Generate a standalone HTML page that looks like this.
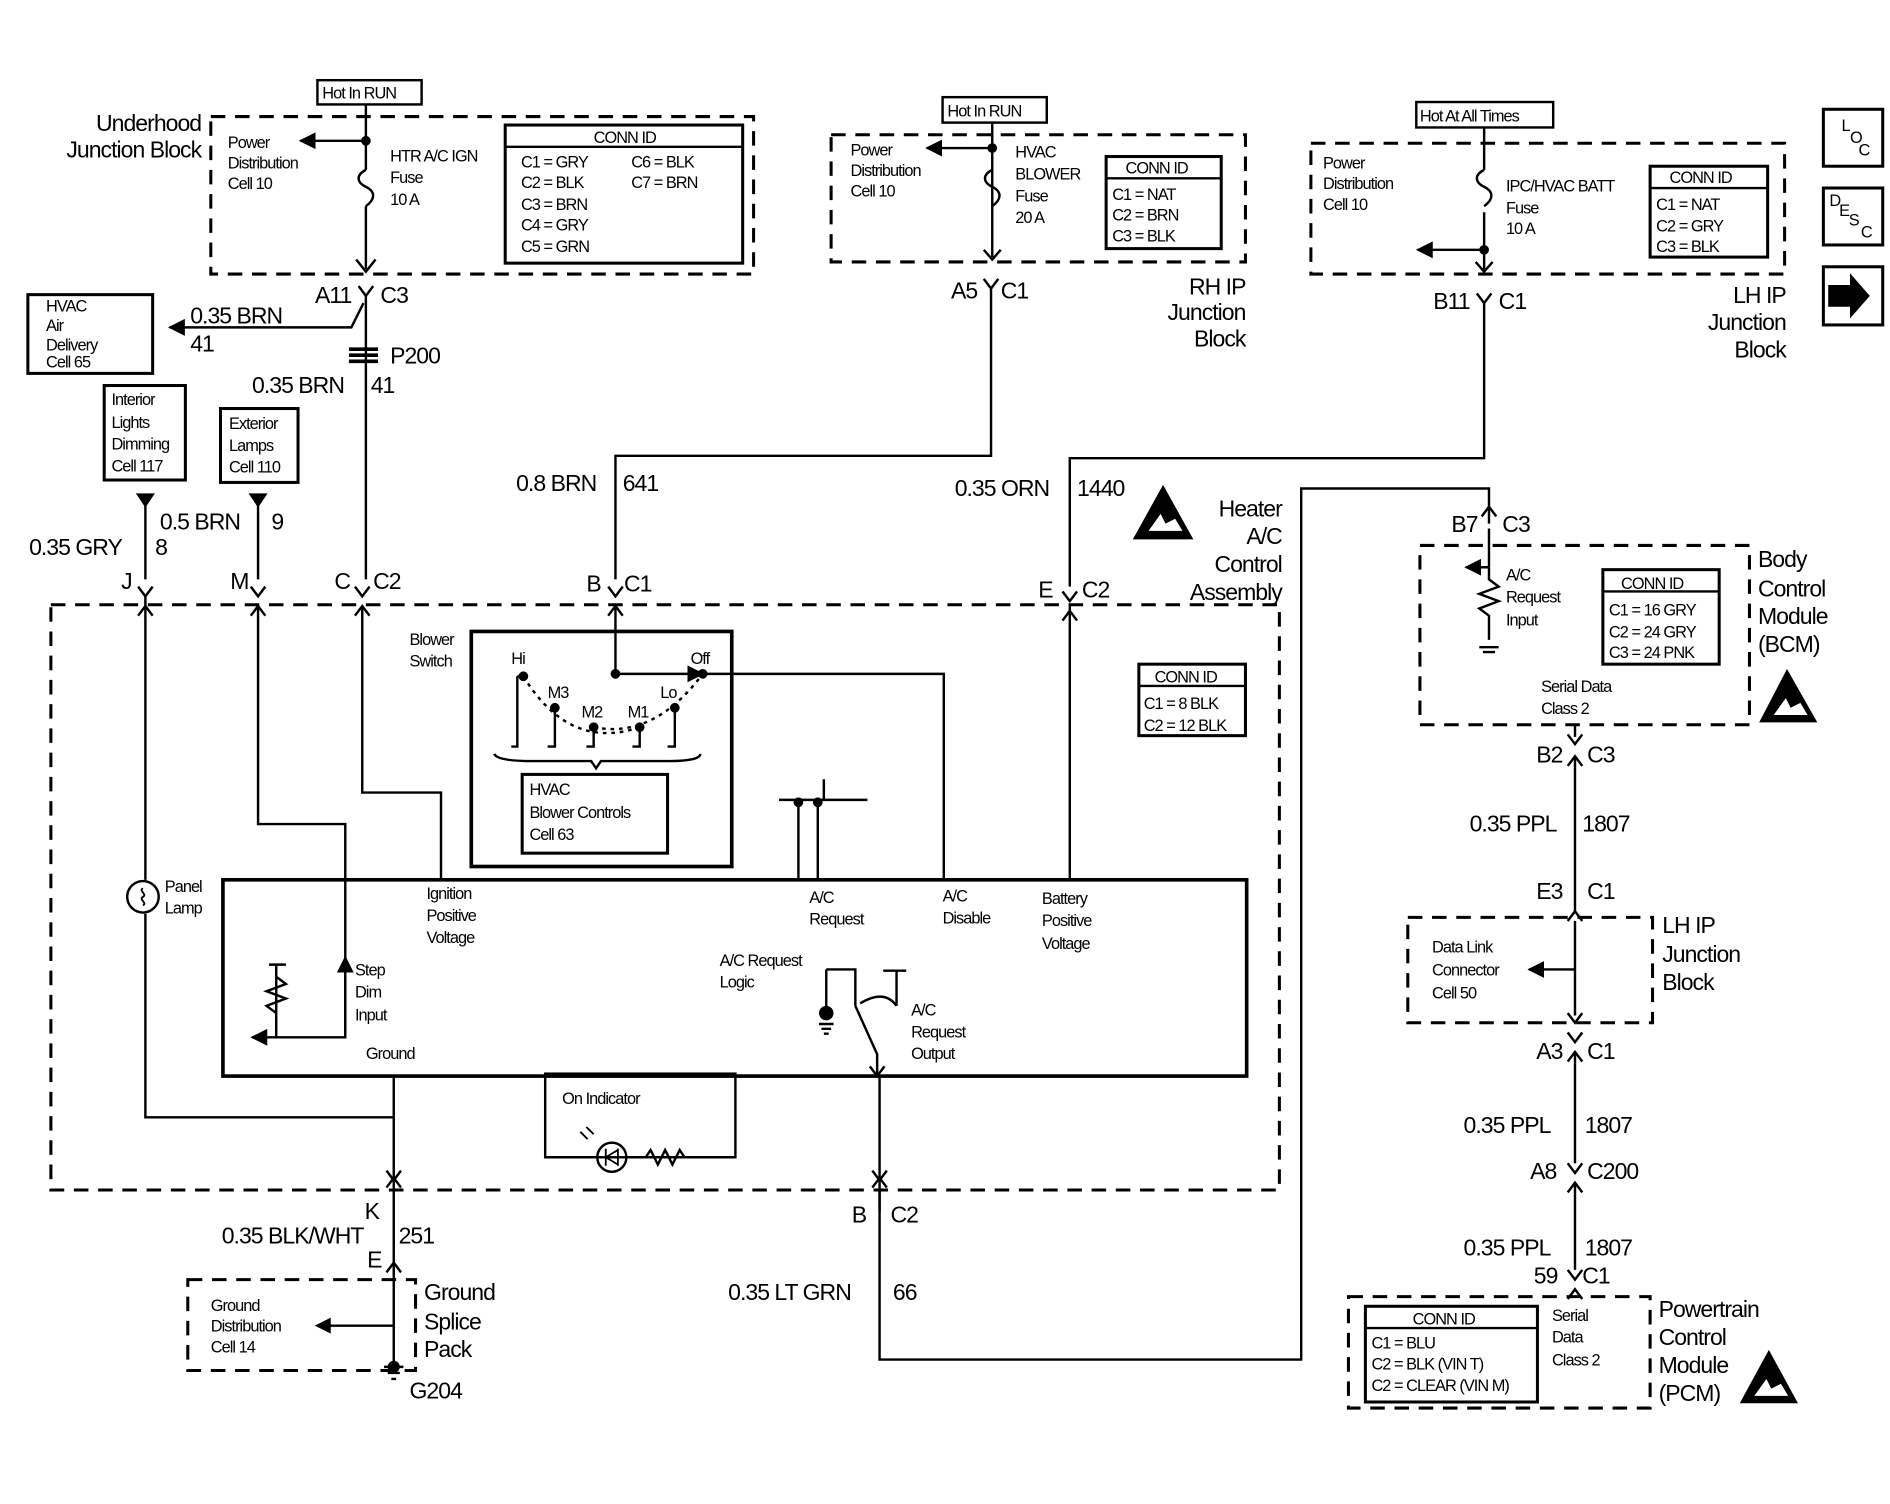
<!DOCTYPE html>
<html><head><meta charset="utf-8"><style>
html,body{margin:0;padding:0;background:#fff}
svg{display:block}
text{font-family:"Liberation Sans",sans-serif;fill:#000;letter-spacing:-0.8px}
.s{font-size:13.5px}.m{font-size:15px}.l{font-size:19px}
</style></head><body>
<svg width="1890" height="1504" viewBox="0 0 1560 1241" xmlns="http://www.w3.org/2000/svg">
<defs>
<marker id="ah" viewBox="0 0 10 10" refX="9" refY="5" markerWidth="7" markerHeight="7" orient="auto-start-reverse"><path d="M0,0L10,5L0,10z" fill="#000"/></marker>
</defs>
<g fill="none" stroke="#000" stroke-width="2">
<g stroke-dasharray="12,8" stroke-width="2.5">
<rect x="174" y="96" width="448" height="130"/>
<rect x="686" y="111" width="342" height="105"/>
<rect x="1082" y="118" width="391" height="108"/>
<rect x="42" y="499" width="1014" height="483"/>
<rect x="1172" y="450" width="272" height="148"/>
<rect x="1162" y="757" width="202" height="87"/>
<rect x="1113" y="1070" width="249" height="92"/>
<rect x="155" y="1056" width="188" height="75"/>
</g>
<rect x="262" y="66" width="86" height="20"/>
<rect x="778" y="80" width="86" height="21"/>
<rect x="1169" y="84" width="113" height="21"/>
<rect x="417" y="103" width="196" height="114" stroke-width="2.5"/><line x1="417" y1="121" x2="613" y2="121"/>
<rect x="913" y="129" width="95" height="76" stroke-width="2.5"/><line x1="913" y1="147" x2="1008" y2="147"/>
<rect x="1362" y="137" width="97" height="75" stroke-width="2.5"/><line x1="1362" y1="155" x2="1459" y2="155"/>
<rect x="940" y="548" width="88" height="59" stroke-width="2.5"/><line x1="940" y1="566" x2="1028" y2="566"/>
<rect x="1323" y="470" width="96" height="78" stroke-width="2.5"/><line x1="1323" y1="488" x2="1419" y2="488"/>
<rect x="1127" y="1078" width="142" height="79" stroke-width="2.5"/><line x1="1127" y1="1096" x2="1269" y2="1096"/>
<rect x="23" y="243" width="103" height="65" stroke-width="2.5"/>
<rect x="86" y="318" width="67" height="78" stroke-width="2.5"/>
<rect x="182" y="337" width="64" height="61" stroke-width="2.5"/>
<rect x="1505" y="90" width="49" height="47" stroke-width="2.5"/>
<rect x="1505" y="155" width="49" height="47" stroke-width="2.5"/>
<rect x="1505" y="220" width="49" height="48" stroke-width="2.5"/>
<rect x="184" y="726" width="845" height="162" stroke-width="3"/>
<rect x="389" y="521" width="215" height="194" stroke-width="3"/>
<rect x="431" y="639" width="120" height="65" stroke-width="2.5"/>
<rect x="450" y="886" width="157" height="69"/>
<path d="M302,86V140 M302,170V222" />
<path d="M302,140c-8,4 -8,10 0,14c8,4 8,10 0,16"/>
<path d="M302,116H248" marker-end="url(#ah)"/>
<path d="M294,214L302,224L310,214"/>
<path d="M296,236L302,244L308,236 M302,244V478"/>
<path d="M300,250L290,270H140" marker-end="url(#ah)"/>
<path d="M288,288h24 M288,293h24 M288,298h24" stroke-width="3"/>
<path d="M819,101V212"/>
<path d="M819,140c-8,4 -8,10 0,14c8,4 8,10 0,16"/>
<path d="M819,122H765" marker-end="url(#ah)"/>
<path d="M812,206L819,214L826,206"/>
<path d="M812,230L818,238L824,230 M818,238V376H508V478"/>
<path d="M1225,105V140 M1225,175V222"/>
<path d="M1225,140c-8,4 -8,10 0,14c8,4 8,10 0,16"/>
<path d="M1225,206H1170" marker-end="url(#ah)"/>
<path d="M1218,216L1225,224L1232,216"/>
<path d="M1219,242L1225,250L1231,242 M1225,250V378H883V484"/>
<path d="M120,408V478 M213,408V478"/>
<path d="M114,408h12l-6,9z M207,408h12l-6,9z" fill="#000"/>
<path d="M114,484l6,8l6,-8 M207,484l6,8l6,-8 M293,484l6,8l6,-8 M502,484l6,8l6,-8 M877,488l6,8l6,-8" />
<path d="M120,492V726 M120,754V922H325" />
<path d="M114,508l6,-8l6,8 M207,508l6,-8l6,8 M293,508l6,-8l6,8 M502,508l6,-8l6,8 M877,512l6,-8l6,8"/>
<path d="M213,500V680H285V856H208" marker-end="url(#ah)"/>
<circle cx="118" cy="740" r="13"/>
<path d="M118,733c-4,2 4,5 0,7c-4,2 4,5 0,7" stroke-width="1.5"/>
<path d="M299,500V654H364V726"/>
<path d="M285,856V790" marker-end="url(#ah)"/>
<path d="M228,856V796 M222,796h14 M228,806l8,6l-16,6l16,6l-16,6l8,6"/>
<path d="M508,500V556H580" marker-end="url(#ah)"/>
<path d="M580,556H779V726"/>
<path d="M883,500V726"/>
<path d="M427,558H432 M427,558V616H422 M458,584V616H452 M490,600V616H484 M528,600V616H522 M557,584V616H551"/>
<path d="M432,558Q470,620 528,600 M490,600Q540,610 580,556" stroke-dasharray="3,4"/>
<path d="M408,622Q410,628 440,628H488L492,634L496,628H550Q578,628 578,622"/>
<g fill="#000"><circle cx="432" cy="558" r="3"/><circle cx="458" cy="584" r="3"/><circle cx="490" cy="600" r="3"/><circle cx="528" cy="600" r="3"/><circle cx="557" cy="584" r="3"/><circle cx="580" cy="556" r="3"/><circle cx="508" cy="556" r="3"/><circle cx="302" cy="116" r="3"/><circle cx="819" cy="122" r="3"/><circle cx="1225" cy="206" r="3"/><circle cx="659" cy="662" r="3"/><circle cx="675" cy="662" r="3"/></g>
<path d="M643,660H716 M680,643V660 M659,662V726 M675,662V726"/>
<path d="M682,800V836 M682,800H706V830 M706,830L724,870V888 M718,880l6,8l6,-8 M729,801H748 M740,801V830 M710,828Q730,816 740,830" />
<path d="M676,845h12 M678,849h8 M680,853h4"/>
<circle cx="682" cy="836" r="5" fill="#000"/>
<path d="M325,888V972 M319,966l6,8l6,-8 M319,980l6,-8l6,8 M325,972V1050 M319,1050l6,-8l6,8 M325,1050V1124 M317,1128h16 M320,1133h10 M323,1138h4"/>
<circle cx="325" cy="1128" r="4" fill="#000"/>
<path d="M325,1094H270" /><path d="M262,1094l10,-5v10z" fill="#000"/>
<path d="M726,888V1122H1074V403H1229V432 M1223,426l6,-8l6,8" />
<path d="M720,966l6,8l6,-8 M720,980l6,-8l6,8 M726,980V1000"/>
<path d="M450,955H493 M518,955H533l4,-6l6,12l6,-12l6,12l6,-12l4,6H607"/>
<circle cx="505" cy="955" r="12"/>
<path d="M500,948v14 M510,948v14 M500,955l10,-6v12z" stroke-width="1.5"/>
<path d="M485,940l-6,-6 M490,936l-6,-6" stroke-width="1.5"/>
<path d="M1229,436V468 M1229,468H1210" marker-end="url(#ah)"/>
<path d="M1229,468V478l8,6l-16,6l16,6l-16,6l8,6V528 M1221,534h16 M1224,538h10"/>
<path d="M1300,598V608 M1294,606l6,8l6,-8 M1294,632l6,-8l6,8 M1300,624V752 M1294,760l6,-8l6,8 M1300,760V838 M1294,836l6,8l6,-8 M1300,800H1262" marker-end="url(#ah)"/>
<path d="M1294,852l6,8l6,-8 M1294,876l6,-8l6,8 M1300,868V960 M1294,960l6,8l6,-8 M1294,984l6,-8l6,8 M1300,976V1048 M1294,1048l6,8l6,-8 M1294,1072l6,-8l6,8"/>
<path d="M1510,236h18v-8l14,16l-14,16v-8h-18z" fill="#000"/>
</g>
<g fill="#000">
<path d="M935,445L960,400L985,445z"/>
<path d="M1452,596L1475,552L1500,596z"/>
<path d="M1436,1158L1460,1114L1484,1158z"/>
</g>
<g fill="#fff"><path d="M948,438l10,-14l4,8l8,-4l6,10z"/><path d="M1464,590l10,-14l4,8l8,-4l6,10z"/><path d="M1448,1152l10,-14l4,8l8,-4l6,10z"/></g>
<g class="s">
<text x="266" y="81">Hot In RUN</text>
<text x="782" y="96">Hot In RUN</text>
<text x="1172" y="100">Hot At All Times</text>
<text x="188" y="122">Power</text><text x="188" y="139">Distribution</text><text x="188" y="156">Cell 10</text>
<text x="322" y="133">HTR A/C IGN</text><text x="322" y="151">Fuse</text><text x="322" y="169">10 A</text>
<text x="490" y="118">CONN ID</text>
<text x="430" y="138">C1 = GRY</text><text x="430" y="155">C2 = BLK</text><text x="430" y="173">C3 = BRN</text><text x="430" y="190">C4 = GRY</text><text x="430" y="208">C5 = GRN</text>
<text x="521" y="138">C6 = BLK</text><text x="521" y="155">C7 = BRN</text>
<text x="702" y="128">Power</text><text x="702" y="145">Distribution</text><text x="702" y="162">Cell 10</text>
<text x="838" y="130">HVAC</text><text x="838" y="148">BLOWER</text><text x="838" y="166">Fuse</text><text x="838" y="184">20 A</text>
<text x="929" y="143">CONN ID</text><text x="918" y="165">C1 = NAT</text><text x="918" y="182">C2 = BRN</text><text x="918" y="199">C3 = BLK</text>
<text x="1092" y="139">Power</text><text x="1092" y="156">Distribution</text><text x="1092" y="173">Cell 10</text>
<text x="1243" y="158">IPC/HVAC BATT</text><text x="1243" y="176">Fuse</text><text x="1243" y="193">10 A</text>
<text x="1378" y="151">CONN ID</text><text x="1367" y="173">C1 = NAT</text><text x="1367" y="191">C2 = GRY</text><text x="1367" y="208">C3 = BLK</text>
<text x="38" y="257">HVAC</text><text x="38" y="273">Air</text><text x="38" y="289">Delivery</text><text x="38" y="303">Cell 65</text>
<text x="92" y="334">Interior</text><text x="92" y="353">Lights</text><text x="92" y="371">Dimming</text><text x="92" y="389">Cell 117</text>
<text x="189" y="354">Exterior</text><text x="189" y="372">Lamps</text><text x="189" y="390">Cell 110</text>
<text x="338" y="532">Blower</text><text x="338" y="550">Switch</text>
<text x="422" y="548">Hi</text><text x="570" y="548">Off</text><text x="452" y="576">M3</text><text x="545" y="576">Lo</text><text x="480" y="592">M2</text><text x="518" y="592">M1</text>
<text x="437" y="656">HVAC</text><text x="437" y="675">Blower Controls</text><text x="437" y="693">Cell 63</text>
<text x="953" y="563">CONN ID</text><text x="944" y="585">C1 = 8 BLK</text><text x="944" y="603">C2 = 12 BLK</text>
<text x="136" y="736">Panel</text><text x="136" y="754">Lamp</text>
<text x="352" y="742">Ignition</text><text x="352" y="760">Positive</text><text x="352" y="778">Voltage</text>
<text x="668" y="745">A/C</text><text x="668" y="763">Request</text>
<text x="778" y="744">A/C</text><text x="778" y="762">Disable</text>
<text x="860" y="746">Battery</text><text x="860" y="764">Positive</text><text x="860" y="783">Voltage</text>
<text x="594" y="797">A/C Request</text><text x="594" y="815">Logic</text>
<text x="752" y="838">A/C</text><text x="752" y="856">Request</text><text x="752" y="874">Output</text>
<text x="293" y="805">Step</text><text x="293" y="823">Dim</text><text x="293" y="842">Input</text>
<text x="302" y="874">Ground</text>
<text x="464" y="911">On Indicator</text>
<text x="1243" y="479">A/C</text><text x="1243" y="497">Request</text><text x="1243" y="516">Input</text>
<text x="1338" y="486">CONN ID</text><text x="1328" y="508">C1 = 16 GRY</text><text x="1328" y="526">C2 = 24 GRY</text><text x="1328" y="543">C3 = 24 PNK</text>
<text x="1272" y="571">Serial Data</text><text x="1272" y="589">Class 2</text>
<text x="1182" y="786">Data Link</text><text x="1182" y="805">Connector</text><text x="1182" y="824">Cell 50</text>
<text x="1166" y="1093">CONN ID</text><text x="1132" y="1113">C1 = BLU</text><text x="1132" y="1130">C2 = BLK (VIN T)</text><text x="1132" y="1148">C2 = CLEAR (VIN M)</text>
<text x="1281" y="1090">Serial</text><text x="1281" y="1108">Data</text><text x="1281" y="1127">Class 2</text>
<text x="174" y="1082">Ground</text><text x="174" y="1099">Distribution</text><text x="174" y="1116">Cell 14</text>
<text x="1520" y="108">L</text><text x="1527" y="118">O</text><text x="1534" y="128">C</text>
<text x="1510" y="170">D</text><text x="1518" y="178">E</text><text x="1526" y="186">S</text><text x="1536" y="196">C</text>
</g>
<g class="l">
<text x="166" y="108" text-anchor="end">Underhood</text><text x="166" y="130" text-anchor="end">Junction Block</text>
<text x="260" y="250">A11</text><text x="314" y="250">C3</text>
<text x="157" y="267">0.35 BRN</text><text x="157" y="290">41</text>
<text x="322" y="300">P200</text>
<text x="208" y="324">0.35 BRN</text><text x="306" y="324">41</text>
<text x="785" y="246">A5</text><text x="826" y="246">C1</text>
<text x="1028" y="243" text-anchor="end">RH IP</text><text x="1028" y="264" text-anchor="end">Junction</text><text x="1028" y="286" text-anchor="end">Block</text>
<text x="1183" y="255">B11</text><text x="1237" y="255">C1</text>
<text x="1474" y="250" text-anchor="end">LH IP</text><text x="1474" y="272" text-anchor="end">Junction</text><text x="1474" y="295" text-anchor="end">Block</text>
<text x="426" y="405">0.8 BRN</text><text x="514" y="405">641</text>
<text x="788" y="409">0.35 ORN</text><text x="889" y="409">1440</text>
<text x="1058" y="426" text-anchor="end">Heater</text><text x="1058" y="449" text-anchor="end">A/C</text><text x="1058" y="472" text-anchor="end">Control</text><text x="1058" y="495" text-anchor="end">Assembly</text>
<text x="132" y="437">0.5 BRN</text><text x="224" y="437">9</text>
<text x="24" y="458">0.35 GRY</text><text x="128" y="458">8</text>
<text x="100" y="486">J</text><text x="190" y="486">M</text><text x="276" y="486">C</text><text x="308" y="486">C2</text>
<text x="484" y="488">B</text><text x="515" y="488">C1</text>
<text x="857" y="493">E</text><text x="893" y="493">C2</text>
<text x="1198" y="439">B7</text><text x="1240" y="439">C3</text>
<text x="1451" y="468">Body</text><text x="1451" y="492">Control</text><text x="1451" y="515">Module</text><text x="1451" y="538">(BCM)</text>
<text x="1268" y="629">B2</text><text x="1310" y="629">C3</text>
<text x="1213" y="686">0.35 PPL</text><text x="1306" y="686">1807</text>
<text x="1268" y="742">E3</text><text x="1310" y="742">C1</text>
<text x="1372" y="770">LH IP</text><text x="1372" y="794">Junction</text><text x="1372" y="817">Block</text>
<text x="1268" y="874">A3</text><text x="1310" y="874">C1</text>
<text x="1208" y="935">0.35 PPL</text><text x="1308" y="935">1807</text>
<text x="1263" y="973">A8</text><text x="1310" y="973">C200</text>
<text x="1208" y="1036">0.35 PPL</text><text x="1308" y="1036">1807</text>
<text x="1266" y="1059">59</text><text x="1306" y="1059">C1</text>
<text x="1369" y="1087">Powertrain</text><text x="1369" y="1110">Control</text><text x="1369" y="1133">Module</text><text x="1369" y="1156">(PCM)</text>
<text x="301" y="1006">K</text>
<text x="183" y="1026">0.35 BLK/WHT</text><text x="329" y="1026">251</text>
<text x="303" y="1046">E</text>
<text x="350" y="1073">Ground</text><text x="350" y="1097">Splice</text><text x="350" y="1120">Pack</text>
<text x="338" y="1154">G204</text>
<text x="703" y="1009">B</text><text x="735" y="1009">C2</text>
<text x="601" y="1073">0.35 LT GRN</text><text x="737" y="1073">66</text>
</g>
</svg>
</body></html>
